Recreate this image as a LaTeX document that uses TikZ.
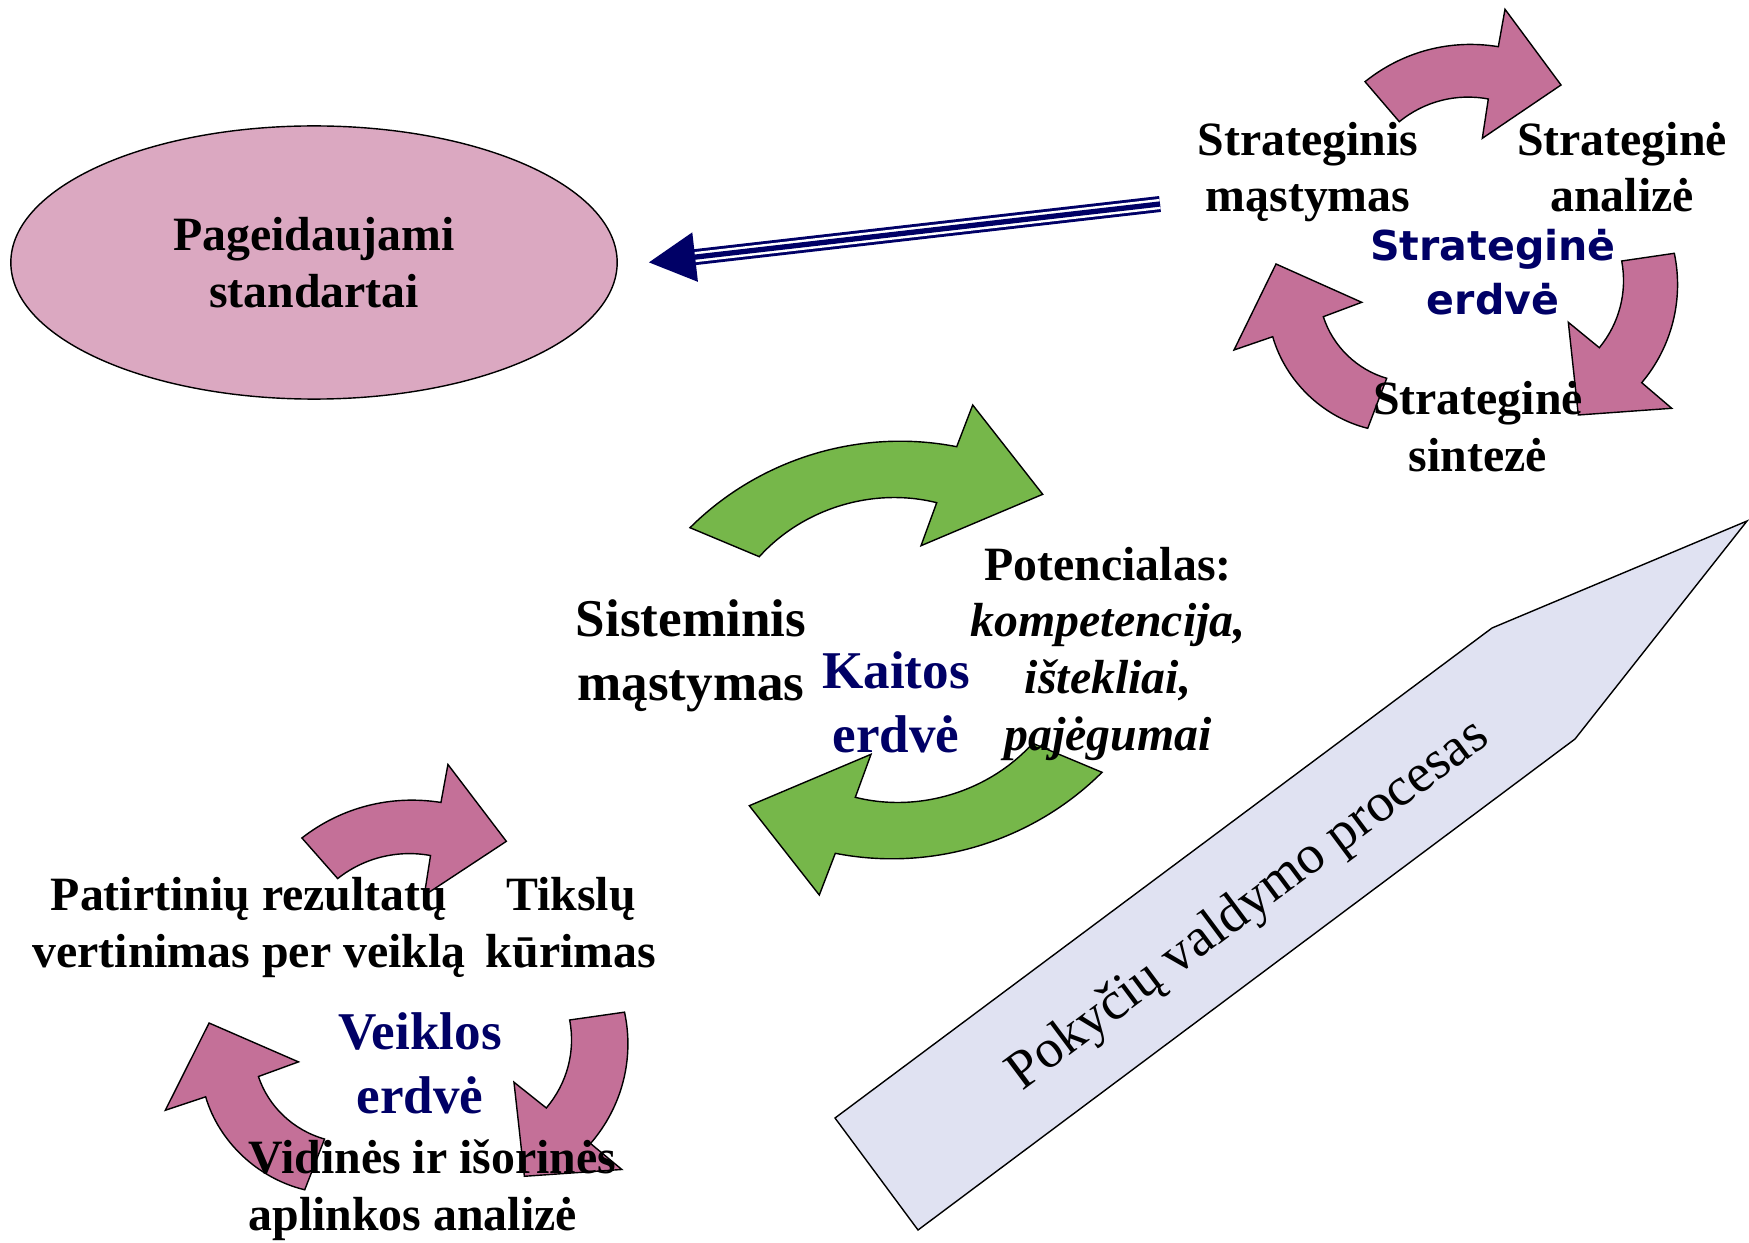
\documentclass[tikz,border=0pt]{standalone}
\usepackage{fontspec}
\setmainfont{Liberation Serif}
\newfontfamily\widesans{DejaVu Sans}
\usetikzlibrary{shapes.geometric,arrows.meta}

\definecolor{pinkarr}{RGB}{196,112,152}
\definecolor{pinkell}{RGB}{219,168,193}
\definecolor{greenarr}{RGB}{118,183,74}
\definecolor{lavend}{RGB}{224,226,242}
\definecolor{navytxt}{RGB}{0,0,102}

\begin{document}
\begin{tikzpicture}[x=0.01cm, y=0.01cm,
    pinkarrow/.style={draw=black, line width=0.4pt, fill=pinkarr, looseness=0.9},
    greenarrow/.style={draw=black, line width=0.4pt, fill=greenarr, looseness=0.9},
    lbl/.style={font=\fontsize{13.6}{16.1}\selectfont\bfseries, align=center, anchor=base, inner sep=0pt},
    biglbl/.style={lbl, font=\fontsize{15.1}{18.1}\selectfont\bfseries},
    spacelbl/.style={biglbl, text=navytxt},
    sanslbl/.style={lbl, text=navytxt, font=\widesans\fontsize{11.7}{15.6}\selectfont\bfseries},
    pinkcycle/.pic={
        \draw[pinkarrow] (-95,148.3) to[bend left=24] (38.3,183.3) -- (45,220.7) -- (101,145)
            -- (22.3,91.7) -- (28.3,131) to[bend right=25] (-60.7,108.3) -- cycle;
        \draw[pinkarrow] (214.3,-23.3) to[bend left=26] (181.7,-152.7) -- (211.7,-178.3) -- (118.3,-185)
            -- (108.3,-92.3) -- (139.3,-117.7) to[bend right=25] (161.7,-31) -- cycle;
        \draw[pinkarrow] (-92.3,-198.3) to[bend left=30] (-187.3,-106.7) -- (-226,-120) -- (-184,-34)
            -- (-98.3,-72.3) -- (-136.7,-86.7) to[bend right=28] (-73.3,-148.3) -- cycle;
    },
    greenhalf/.pic={
        \draw[greenarrow] (-206,122.3) to[bend left=28] (60.7,203.3) -- (76.7,245) -- (146.7,155.7)
            -- (25,104.3) -- (40.7,147.3) to[bend right=31] (-136.7,93.3) -- cycle;
    }]
    %\draw[lightgray] (0,0) grid[step=100] (1749,-1243);
    \useasboundingbox (0,0) rectangle (1749,-1243);

    % ellipse and the arrow into it
    \node[ellipse, draw, fill=pinkell, minimum width=6.06cm, minimum height=2.73cm, inner sep=0pt,
        align=center, font=\fontsize{13.6}{16.1}\selectfont\bfseries] (std) at (314,-262.5)
        {Pageidaujami\\standartai};
    \coordinate (atail) at (1160,-204);
    \coordinate (atip) at ([xshift=0.3cm]std.east);
    \draw[navytxt, line width=4.55pt, -{Triangle[length=4.75mm, width=4.6mm]}] (atail) -- (atip);
    \draw[white, line width=2.9pt, shorten >=4.75mm] (atail) -- (atip);
    \draw[navytxt, line width=1.5pt, shorten >=4.7mm] (atail) -- (atip);

    % big arrow
    \draw[fill=lavend, line width=0.4pt] (835,-1118) -- (1492,-628) -- (1747,-521) -- (1575,-739)
        -- (918,-1230) -- cycle;
    \node[font=\fontsize{15.5}{18}\selectfont, rotate=36.7] (pvp) at (1249,-906) {Pokyčių valdymo procesas};

    % cycles
    \pic at (1460,-230) {pinkcycle};
    \pic[xscale=1.043, yscale=1.015] at (401,-988.5) {pinkcycle};
    \pic at (896,-650) {greenhalf};
    \pic[rotate=180] at (896,-650) {greenhalf};

    % strategine erdve (base = last line)
    \node[lbl] (sm) at (1308,-212) {Strateginis\\mąstymas};
    \node[lbl] (sa) at (1622,-212) {Strateginė\\analizė};
    \node[lbl] (ss) at (1478,-471) {Strateginė\\sintezė};
    \node[sanslbl] (se) at (1493,-315) {Strateginė\\erdvė};

    % kaitos erdve
    \node[biglbl] (sys) at (691,-700) {Sisteminis\\mąstymas};
    \node[spacelbl] (ke) at (896,-752) {Kaitos\\erdvė};
    \node[lbl] (pot) at (1108,-750) {Potencialas:\\\textit{kompetencija,}\\\textit{ištekliai,}\\\textit{pajėgumai}};

    % veiklos erdve
    \node[lbl] (pr) at (249,-967) {Patirtinių rezultatų\\vertinimas per veiklą};
    \node[lbl] (tk) at (571,-967) {Tikslų\\kūrimas};
    \node[spacelbl] (ve) at (420,-1113) {Veiklos\\erdvė};
    \node[lbl, align=left, anchor=base west] (va) at (248,-1230) {Vidinės ir išorinės\\aplinkos analizė};
\end{tikzpicture}
\end{document}
